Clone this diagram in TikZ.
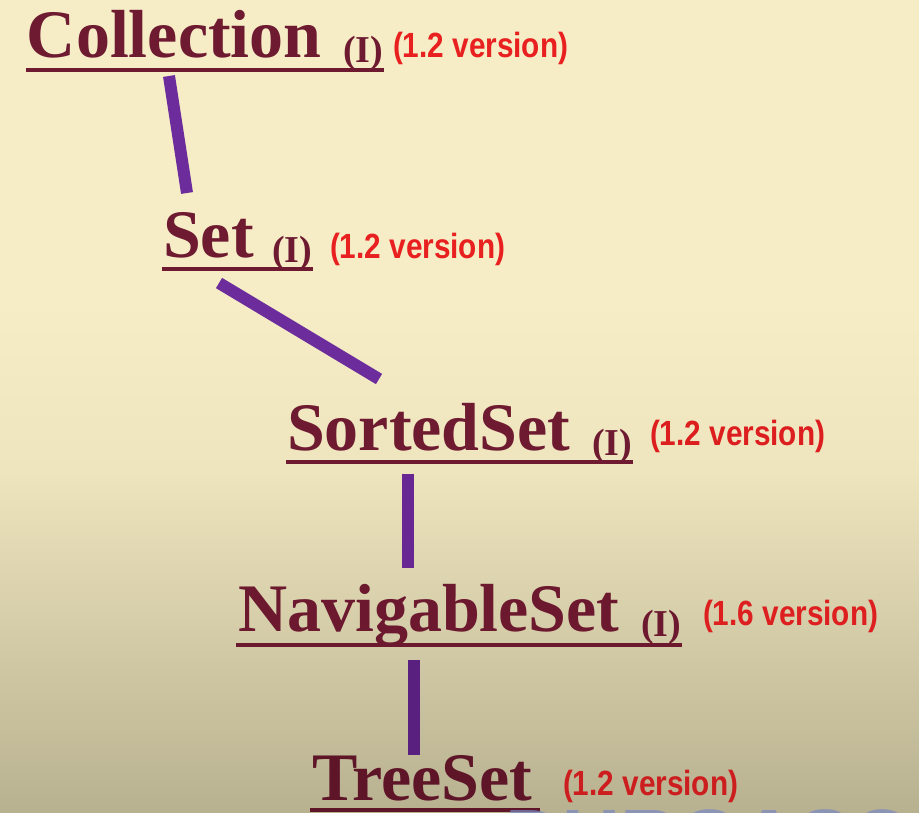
\documentclass[tikz,border=0pt]{standalone}
\usepackage{fontspec}
\setmainfont{Liberation Serif}
\newfontfamily\redfont[FakeStretch=0.85]{Liberation Sans}
\newfontfamily\wmfont{Liberation Sans}
\definecolor{bgtop}{HTML}{F6EDC7}
\definecolor{bgmid}{HTML}{EEE5BE}
\definecolor{bgbot}{HTML}{B8B190}
\definecolor{maroonA}{HTML}{6E1A30}
\definecolor{maroonB}{HTML}{5E1528}
\definecolor{redA}{HTML}{E8201F}
\definecolor{redB}{HTML}{CC1E1E}
\definecolor{purA}{HTML}{6C2C9C}
\definecolor{purB}{HTML}{5A2080}
\definecolor{wmblue}{HTML}{7A88C4}
\tikzset{
  cls/.style={anchor=base west, inner sep=0pt, outer sep=0pt,
    font=\fontsize{68}{80}\selectfont\bfseries, text=maroonA},
  iface/.style={anchor=base west, inner sep=0pt, outer sep=0pt,
    font=\fontsize{38}{44}\selectfont\bfseries, text=maroonA},
  ver/.style={anchor=base west, inner sep=0pt, outer sep=0pt,
    font=\redfont\fontsize{35}{40}\selectfont\bfseries, text=redA},
  uline/.style={line width=4.5pt, draw=maroonA},
  conn/.style={line width=12pt, draw=purA}
}
\begin{document}
\begin{tikzpicture}[x=1pt,y=-1pt]
\useasboundingbox (0,0) rectangle (919,813);
\clip (0,0) rectangle (919,813);
% background
\fill[bgtop] (0,0) rectangle (919,470);
\shade[top color=bgtop, bottom color=bgmid] (0,300) rectangle (919,470);
\shade[top color=bgmid, bottom color=bgbot] (0,469) rectangle (919,813);

% coordinates for connectors
\coordinate (c1a) at (169,76);
\coordinate (c1b) at (187,193);
\coordinate (c2a) at (219,283);
\coordinate (c2b) at (379,379);
\coordinate (c3a) at (408,474);
\coordinate (c3b) at (408,568);
\coordinate (c4a) at (414,660);
\coordinate (c4b) at (414,755);

% underline ends
\coordinate (u1a) at (26,70);  \coordinate (u1b) at (384,70);
\coordinate (u2a) at (162,269); \coordinate (u2b) at (313,269);
\coordinate (u3a) at (286,462); \coordinate (u3b) at (633,462);
\coordinate (u4a) at (236,645); \coordinate (u4b) at (682,645);
\coordinate (u5a) at (310,810); \coordinate (u5b) at (540,810);

% Row 1
\node[cls] (coll) at (27,58) {Collection};
\node[iface] (collI) at (343,63) {(I)};
\node[ver] (collV) at (393,58) {(1.2 version)};
\draw[uline] (u1a) -- (u1b);

% Row 2
\node[cls] (set) at (163,258) {Set};
\node[iface] (setI) at (272,263) {(I)};
\node[ver] (setV) at (330,259) {(1.2 version)};
\draw[uline] (u2a) -- (u2b);

% Row 3
\node[cls] (sorted) at (287,450) {SortedSet};
\node[iface] (sortedI) at (592,455) {(I)};
\node[ver, text=redA!95!black] (sortedV) at (650,445) {(1.2 version)};
\draw[uline] (u3a) -- (u3b);

% Row 4
\node[cls, text=maroonA!90!maroonB] (nav) at (238,631) {NavigableSet};
\node[iface, text=maroonA!90!maroonB] (navI) at (641,636) {(I)};
\node[ver, text=redA!60!redB] (navV) at (703,625) {(1.6 version)};
\draw[uline, draw=maroonA!90!maroonB] (u4a) -- (u4b);

% Row 5
\node[cls, text=maroonB] (tree) at (312,800) {TreeSet};
\node[ver, text=redB] (treeV) at (563,795) {(1.2 version)};
\draw[uline, draw=maroonB] (u5a) -- (u5b);

% connectors
\draw[conn] (c1a) -- (c1b);
\draw[conn] (c2a) -- (c2b);
\draw[conn, draw=purA!70!purB] (c3a) -- (c3b);
\draw[conn, draw=purB] (c4a) -- (c4b);

% watermark (mostly cut off)
\node[anchor=base west, inner sep=0pt, font=\wmfont\fontsize{80}{90}\selectfont\bfseries,
  text=wmblue, opacity=0.7] (wm) at (505,865) {DURGASOFT};
\end{tikzpicture}
\end{document}
